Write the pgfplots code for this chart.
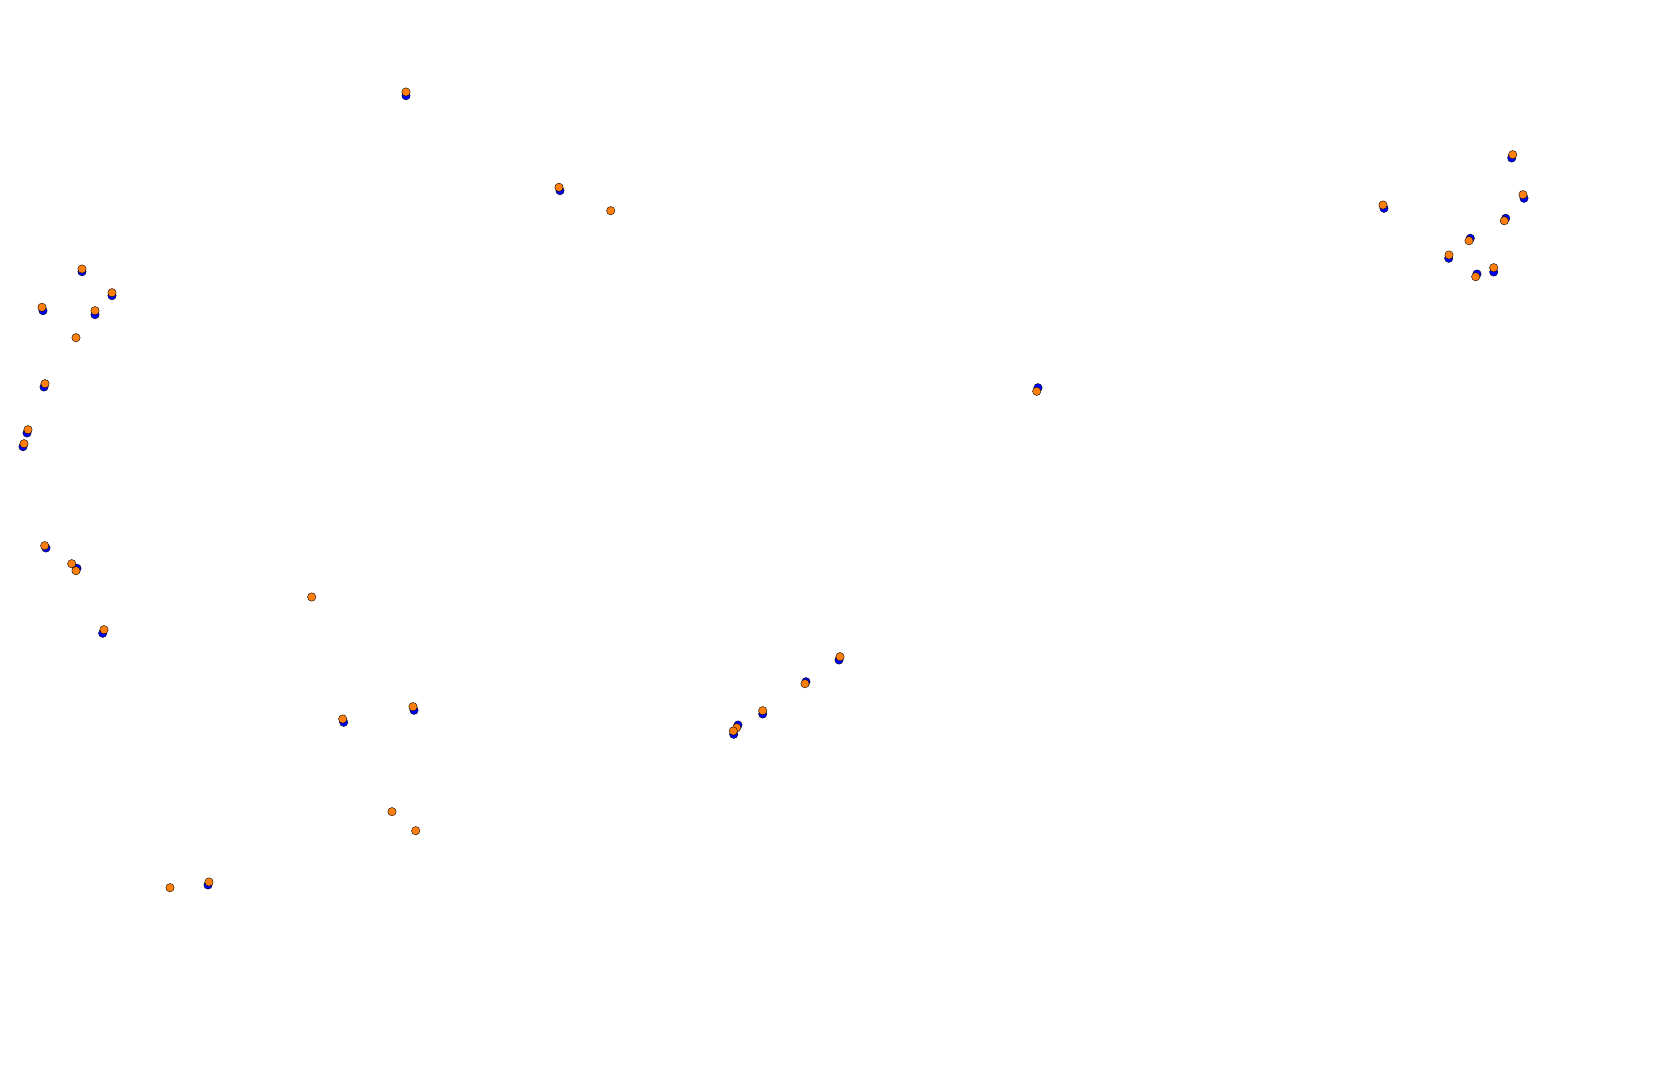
\documentclass[border=0pt]{standalone}
\usepackage{pgfplots}
\pgfplotsset{compat=1.18}
\definecolor{dotblue}{RGB}{0,0,255}
\definecolor{dotorange}{RGB}{255,127,14}
\begin{document}
\begin{tikzpicture}
\begin{axis}[
  scale only axis, width=1680bp, height=1076bp,
  xmin=0, xmax=1680, ymin=0, ymax=1076, y dir=reverse,
  hide axis, clip=false,
]
\path (rel axis cs:0,0) rectangle (rel axis cs:1,1);
\addplot[only marks, mark=*, mark size=4.2bp, mark options={draw=none, fill=dotblue}] coordinates {
(82,271.7) (112,295.7) (43,310.7) (95,314.7) (44,387) (27,433) (23,446.7)
(46,548) (77,568.3) (102.7,633.3)
(406,95.7) (560,190.7)
(1511.7,158) (1524,198.3) (1384,208.3) (1505.7,218.3) (1470.3,238.3) (1448.7,258.3) (1493.7,272) (1477,274)
(839,660) (806,681.7) (762.7,714) (738,725) (733.7,734.3)
(414,710.3) (343.7,722.3) (208,885)
(1038,387.7)
};
\addplot[only marks, mark=*, mark size=4.2bp, mark options={draw=none, fill=dotorange}] coordinates {
(82,269) (112,292.7) (42,307.3) (95,310.7) (76,337.7) (45,383.7) (28,429.7) (24,443.7)
(44.7,545.7) (71.7,563.7) (76,570.7) (104,629.7)
(406,92) (559,187.3) (610.7,210.7)
(1512.7,154.7) (1523,194.7) (1383,205) (1504.3,220.7) (1469,240.7) (1449,255) (1493.7,267.7) (1475.7,276.7)
(840,656.7) (805,683.7) (762.7,710.7) (736.7,727.7) (733.3,731)
(311.7,597) (413,706.7) (342.7,719) (392,811.7) (415.7,830.7) (209,882) (170,887.7)
(1036.7,391.3)
};
\end{axis}
\end{tikzpicture}
\end{document}
